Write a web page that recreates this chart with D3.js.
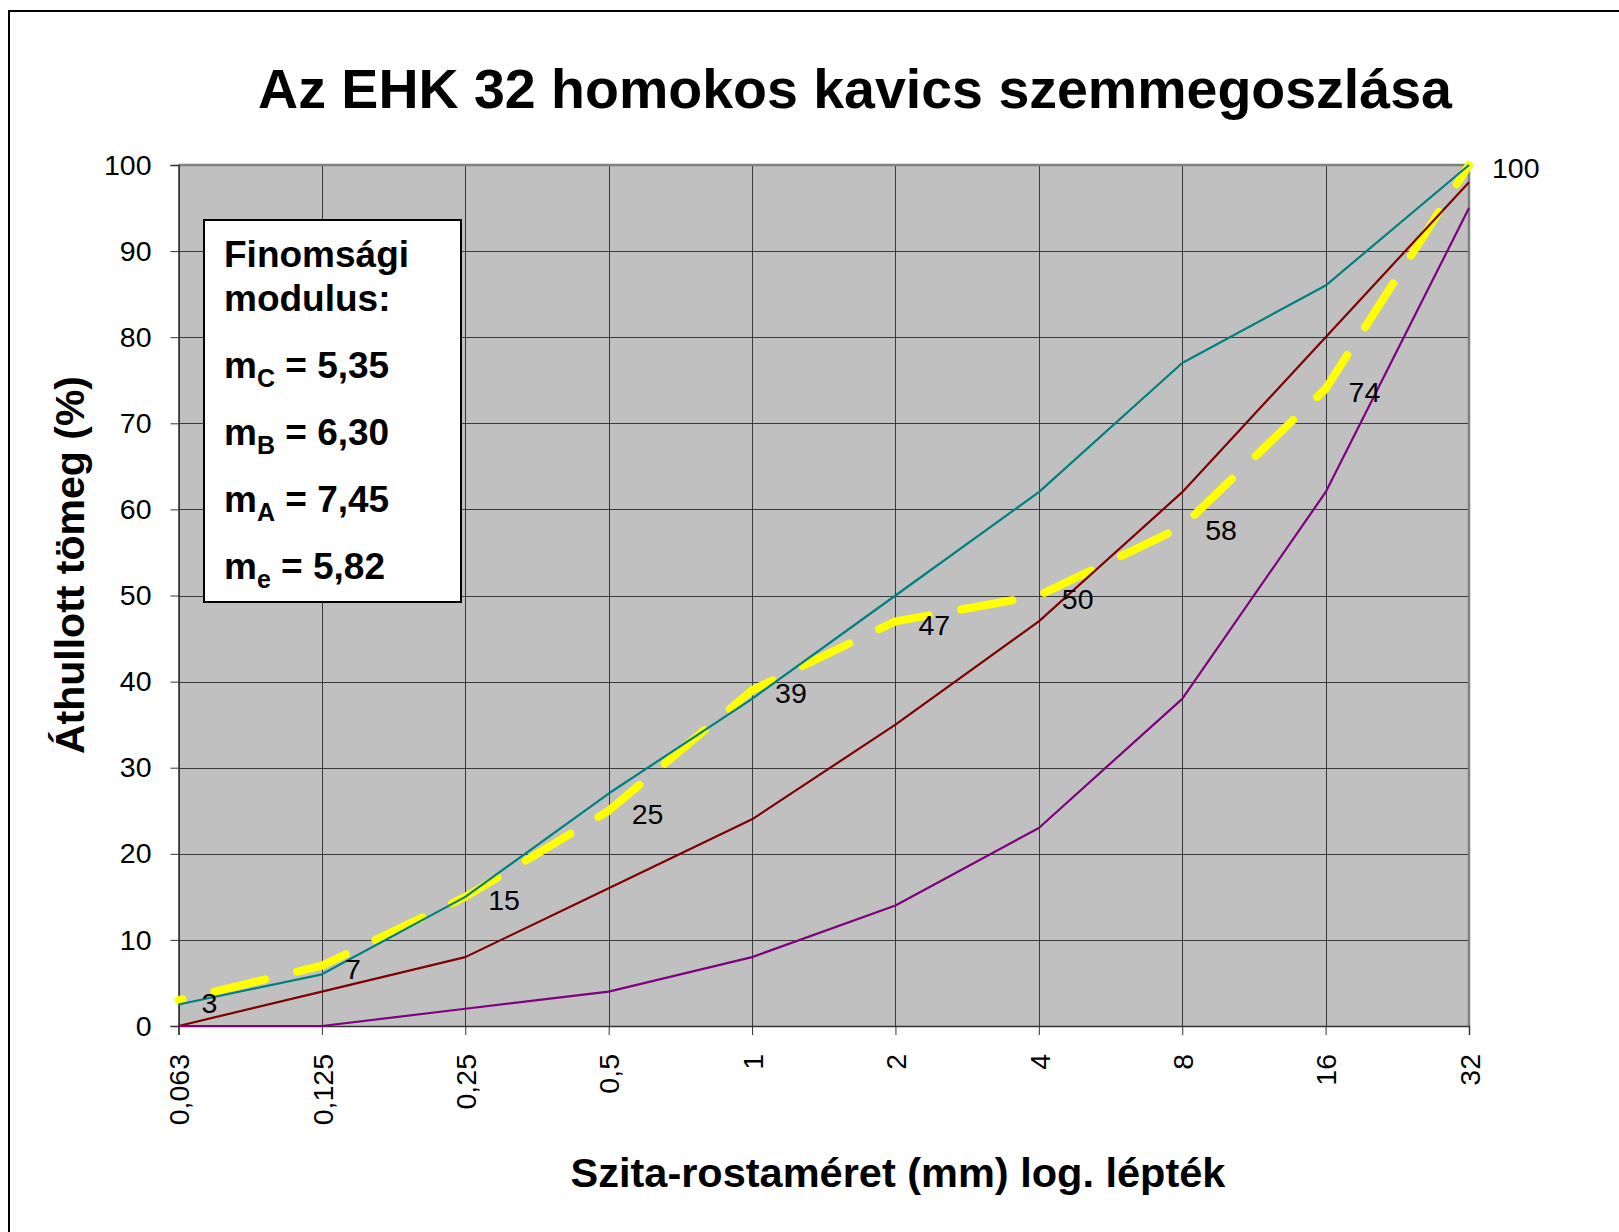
<!DOCTYPE html>
<html>
<head>
<meta charset="utf-8">
<script src="https://cdn.jsdelivr.net/npm/d3@7/dist/d3.min.js"></script>
<style>
  html, body { margin: 0; padding: 0; background: #fff; }
  svg { display: block; font-family: Arial, "Liberation Sans", sans-serif; }
</style>
</head>
<body>
<svg id="chart" width="1619" height="1232"></svg>
<script>
// ---- Data ----
const sieveSizes = ["0,063", "0,125", "0,25", "0,5", "1", "2", "4", "8", "16", "32"];
const yTicks = [0, 10, 20, 30, 40, 50, 60, 70, 80, 90, 100];
const limitC = [2.5, 6, 15, 27, 38, 50, 62, 77, 86, 100];   // teal
const limitB = [0, 4, 8, 16, 24, 35, 47, 62, 80, 98];       // dark red
const limitA = [0, 0, 2, 4, 8, 14, 23, 38, 62, 95];         // purple
const actual = [3, 7, 15, 25, 39, 47, 50, 58, 74, 100];     // yellow dashed
const titleText = "Az EHK 32 homokos kavics szemmegoszlása";
const yTitle = "Áthullott tömeg (%)";
const xTitle = "Szita-rostaméret (mm) log. lépték";
const boxLines = [
  { main: "m", sub: "C", rest: " = 5,35" },
  { main: "m", sub: "B", rest: " = 6,30" },
  { main: "m", sub: "A", rest: " = 7,45" },
  { main: "m", sub: "e", rest: " = 5,82" }
];

// ---- Layout ----
const plot = { left: 178.5, right: 1469, top: 165, bottom: 1026 };
const svg = d3.select("#chart");

const x = d3.scalePoint().domain(sieveSizes).range([plot.left, plot.right]);
const y = d3.scaleLinear().domain([0, 100]).range([plot.bottom, plot.top]);

// outer border
svg.append("rect").attr("x", 9).attr("y", 11).attr("width", 1700).attr("height", 1300)
  .attr("fill", "#fff").attr("stroke", "#000").attr("stroke-width", 2);

// plot background
svg.append("rect").attr("x", plot.left).attr("y", plot.top)
  .attr("width", plot.right - plot.left).attr("height", plot.bottom - plot.top)
  .attr("fill", "#c0c0c0");

// gridlines
svg.append("g").selectAll("line").data(yTicks).join("line")
  .attr("x1", plot.left).attr("x2", plot.right)
  .attr("y1", d => Math.round(y(d)) + 0.5).attr("y2", d => Math.round(y(d)) + 0.5)
  .attr("stroke", "#3a3a3a").attr("stroke-width", 1);
svg.append("g").selectAll("line").data(sieveSizes).join("line")
  .attr("y1", plot.top).attr("y2", plot.bottom)
  .attr("x1", d => Math.round(x(d)) + 0.5).attr("x2", d => Math.round(x(d)) + 0.5)
  .attr("stroke", "#3a3a3a").attr("stroke-width", 1);

// plot border (top/right grey)
svg.append("path")
  .attr("d", `M${plot.left},${plot.top}H${plot.right}V${plot.bottom}`)
  .attr("fill", "none").attr("stroke", "#808080").attr("stroke-width", 2.5);

// Y axis
const yAxis = d3.axisLeft(y).tickValues(yTicks).tickSize(8).tickPadding(19).tickFormat(d3.format("d"));
const gy = svg.append("g").attr("transform", `translate(${plot.left},0)`).call(yAxis);
gy.select(".domain").attr("stroke", "#333").attr("stroke-width", 1.5);
gy.selectAll(".tick line").attr("stroke", "#333");
gy.selectAll(".tick text").attr("font-size", 28.5).attr("font-family", "Arial, 'Liberation Sans', sans-serif").attr("fill", "#000");

// X axis
const xAxis = d3.axisBottom(x).tickSize(9).tickPadding(0);
const gx = svg.append("g").attr("transform", `translate(0,${plot.bottom})`).call(xAxis);
gx.select(".domain").attr("stroke", "#333").attr("stroke-width", 1.5);
gx.selectAll(".tick line").attr("stroke", "#333");
gx.selectAll(".tick text")
  .attr("font-size", 28.5).attr("font-family", "Arial, 'Liberation Sans', sans-serif").attr("fill", "#000")
  .attr("text-anchor", "end")
  .attr("transform", "translate(0,28) rotate(-90)")
  .attr("x", 0).attr("y", 0).attr("dy", "0.36em");

// series lines
const line = d3.line().x((d, i) => x(sieveSizes[i])).y(d => y(d));

svg.append("path").datum(actual).attr("d", line)
  .attr("fill", "none").attr("stroke", "#ffff00").attr("stroke-width", 8)
  .attr("stroke-linecap", "round").attr("stroke-linejoin", "round")
  .attr("stroke-dasharray", "52,33").attr("stroke-dashoffset", 48);

const series = [
  { values: limitC, color: "#008080" },
  { values: limitB, color: "#800000" },
  { values: limitA, color: "#800080" }
];
series.forEach(s => {
  svg.append("path").datum(s.values).attr("d", line)
    .attr("fill", "none").attr("stroke", s.color).attr("stroke-width", 2.2)
    .attr("stroke-linejoin", "round");
});

// data labels for actual
svg.append("g").selectAll("text").data(actual).join("text")
  .attr("x", (d, i) => x(sieveSizes[i]) + 23)
  .attr("y", d => y(d) + 3)
  .attr("dy", "0.36em")
  .attr("font-size", 28.5).attr("fill", "#000")
  .text(d => d);

// Title
svg.append("text").attr("x", 855).attr("y", 108).attr("text-anchor", "middle")
  .attr("font-size", 55.5).attr("font-weight", "bold").text(titleText);

// Axis titles
svg.append("text").attr("transform", "translate(84,565) rotate(-90)")
  .attr("text-anchor", "middle").attr("font-size", 41).attr("font-weight", "bold").text(yTitle);
svg.append("text").attr("x", 898).attr("y", 1187).attr("text-anchor", "middle")
  .attr("font-size", 41.5).attr("font-weight", "bold").text(xTitle);

// Info box
svg.append("rect").attr("x", 204).attr("y", 220).attr("width", 257).attr("height", 382)
  .attr("fill", "#fff").attr("stroke", "#000").attr("stroke-width", 2);
const box = svg.append("g").attr("font-size", 37).attr("font-weight", "bold");
box.append("text").attr("x", 224).attr("y", 267).text("Finomsági");
box.append("text").attr("x", 224).attr("y", 311).text("modulus:");
const baseY = [378, 445, 512, 579];
boxLines.forEach((l, i) => {
  const t = box.append("text").attr("x", 224).attr("y", baseY[i]);
  t.append("tspan").text(l.main);
  t.append("tspan").attr("font-size", 25).attr("dy", 9).text(l.sub);
  t.append("tspan").attr("dy", -9).text(l.rest);
});
</script>
</body>
</html>
